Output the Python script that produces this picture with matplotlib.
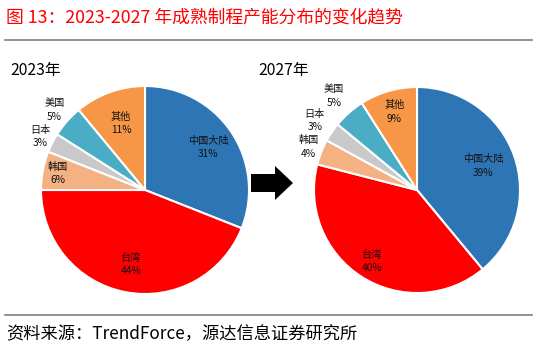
import numpy as np
import matplotlib
matplotlib.use("Agg")
import matplotlib.pyplot as plt
from matplotlib.patches import FancyArrow

plt.rcParams["font.family"] = ["Noto Sans CJK SC", "DejaVu Sans"]

# ---- data ----
CATEGORIES = ["中国大陆", "台湾", "韩国", "日本", "美国", "其他"]
SHARE_2023 = [31, 44, 6, 3, 5, 11]
SHARE_2027 = [39, 40, 4, 3, 5, 9]
YEARS = ["2023年", "2027年"]

COLORS = ["#2E75B6", "#FF0000", "#F4B183", "#C9C9C9", "#4BACC6", "#F79646"]
# radial label position per slice (fraction of radius)
LABEL_R_2023 = [0.73, 0.73, 0.85, 1.13, 1.16, 0.68]
LABEL_R_2027 = [0.68, 0.82, 1.13, 1.2, 1.22, 0.79]

W, H = 538, 352
fig = plt.figure(figsize=(W / 100, H / 100), dpi=100)

# full-figure axes in pixel units for title, rules, arrow
bg = fig.add_axes([0, 0, 1, 1])
bg.set_xlim(0, W)
bg.set_ylim(H, 0)
bg.axis("off")

bg.text(6, 17, "图 13：2023-2027 年成熟制程产能分布的变化趋势", color="#FF0000",
        fontsize=12.8, va="center", ha="left")
bg.plot([5, 532], [40, 40], color="#7F7F7F", lw=1.2)
bg.plot([5, 532], [315, 315], color="#7F7F7F", lw=1.2)
bg.text(6, 334, "资料来源：TrendForce，源达信息证券研究所", color="#000000",
        fontsize=12.4, va="center", ha="left")

bg.text(10, 70, YEARS[0], fontsize=11.3, va="center", ha="left")
bg.text(258, 70, YEARS[1], fontsize=11.3, va="center", ha="left")

bg.add_patch(FancyArrow(251, 183, 24, 0, width=18, head_width=34, head_length=18,
                        length_includes_head=False, color="black", lw=0))


def draw_pie(cx, cy, r, values, label_r):
    ax = fig.add_axes([(cx - r) / W, (H - cy - r) / H, 2 * r / W, 2 * r / H])
    wedges, _ = ax.pie(values, colors=COLORS, startangle=90, counterclock=False,
                       radius=1.0, wedgeprops=dict(edgecolor="white", linewidth=1.5))
    for w, name, v, lr in zip(wedges, CATEGORIES, values, label_r):
        mid = np.deg2rad((w.theta1 + w.theta2) / 2)
        ax.text(lr * np.cos(mid), lr * np.sin(mid), f"{name}\n{v}%",
                ha="center", va="center", fontsize=7.3, color="#111111",
                linespacing=1.45, clip_on=False)
    ax.set_xlim(-1, 1)
    ax.set_ylim(-1, 1)
    ax.set_aspect("equal")
    ax.axis("off")


draw_pie(145, 190, 104, SHARE_2023, LABEL_R_2023)
draw_pie(417, 190, 103, SHARE_2027, LABEL_R_2027)

fig.savefig("out.png", dpi=100)
